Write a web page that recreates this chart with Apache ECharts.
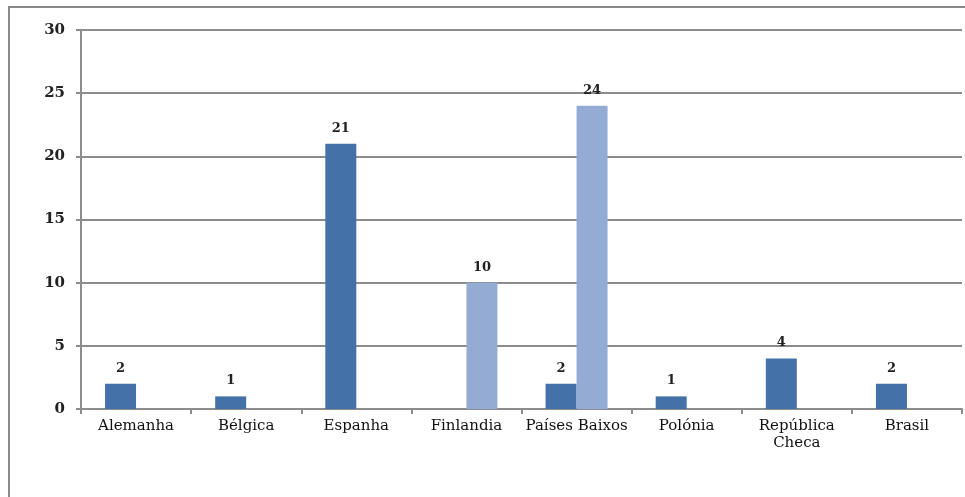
<!DOCTYPE html>
<html>
<head>
<meta charset="utf-8">
<script src="https://cdn.jsdelivr.net/npm/echarts@6/dist/echarts.min.js"></script>
<style>
html,body{margin:0;padding:0;background:#fff;overflow:hidden;width:965px;height:497px;}
#chart{position:absolute;left:0;top:0;width:965px;height:497px;}
</style>
</head>
<body>
<div id="chart"></div>
<script>
const categories = ['Alemanha','Bélgica','Espanha','Finlandia','Países Baixos','Polónia','República\nCheca','Brasil'];
const seriesA = [2, 1, 21, null, 2, 1, 4, 2];
const seriesB = [null, null, null, 10, 24, null, null, null];
const yTicks = [0, 5, 10, 15, 20, 25, 30];

const font = 'DejaVu Serif';
const chart = echarts.init(document.getElementById('chart'));
const labelCfg = {
  show: true, position: 'top', distance: 9,
  fontFamily: font, fontSize: 13, fontWeight: 'bold', color: '#222'
};
chart.setOption({
  animation: false,
  graphic: [
    { type: 'polyline', silent: true,
      shape: { points: [[9, 497], [9, 7], [965, 7]] },
      style: { stroke: '#8a8a8a', lineWidth: 2, fill: null } }
  ],
  grid: { left: 81, right: 3, top: 30, bottom: 88 },
  xAxis: {
    type: 'category',
    data: categories,
    axisLine: { lineStyle: { color: '#8c8c8c', width: 2 } },
    axisTick: { show: true, length: 5, alignWithLabel: false, lineStyle: { color: '#8c8c8c', width: 2 } },
    axisLabel: { fontFamily: font, fontSize: 15, color: '#111', margin: 9, lineHeight: 17, interval: 0 }
  },
  yAxis: {
    type: 'value',
    min: yTicks[0], max: yTicks[yTicks.length - 1], interval: 5,
    axisLine: { show: true, lineStyle: { color: '#8c8c8c', width: 2 } },
    axisTick: { show: true, length: 5, lineStyle: { color: '#8c8c8c', width: 2 } },
    splitLine: { lineStyle: { color: '#8c8c8c', width: 2 } },
    axisLabel: { fontFamily: font, fontSize: 15, fontWeight: 'bold', color: '#222', margin: 16 }
  },
  series: [
    { type: 'bar', data: seriesA, barWidth: 31, barGap: '0%',
      itemStyle: { color: '#4472a8' }, label: labelCfg },
    { type: 'bar', data: seriesB, barWidth: 31, barGap: '0%',
      itemStyle: { color: '#94acd4' }, label: labelCfg }
  ]
});
</script>
</body>
</html>
